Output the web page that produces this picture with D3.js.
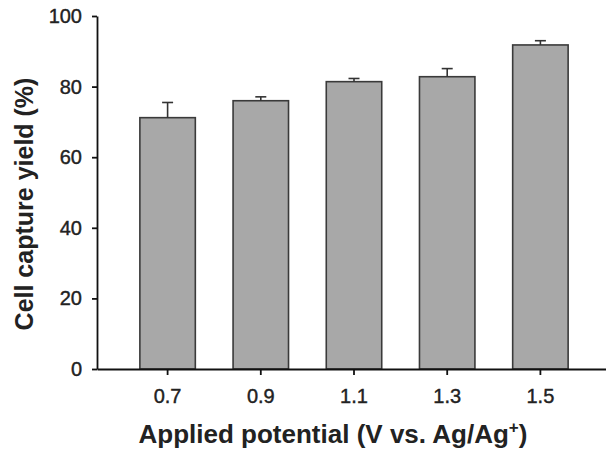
<!DOCTYPE html>
<html>
<head>
<meta charset="utf-8">
<script src="https://cdn.jsdelivr.net/npm/d3@7"></script>
<style>
  body { margin: 0; background: #fff; }
  svg { display: block; font-family: "Liberation Sans", Arial, sans-serif; }
</style>
</head>
<body>
<svg id="main" width="606" height="452"></svg>
<script>
const width = 606
const height = 452

const potentials = ['0.7', '0.9', '1.1', '1.3', '1.5']
const yields = [71.2, 76.0, 81.4, 82.8, 91.8]
const errors = [4.3, 1.1, 0.9, 2.3, 1.2]
const yTicks = [0, 20, 40, 60, 80, 100]

const svg = d3.select('#main')

const x = d3.scaleBand()
  .domain(potentials)
  .range([97, 611])
  .paddingInner(0.405)
  .paddingOuter(0.46)

const y = d3.scaleLinear()
  .domain([0, 100])
  .range([369, 16])

// bars
svg.append('g')
  .selectAll('rect')
  .data(potentials)
  .join('rect')
  .attr('x', d => x(d))
  .attr('y', (d, i) => y(yields[i]))
  .attr('width', x.bandwidth())
  .attr('height', (d, i) => y(0) - y(yields[i]))
  .attr('fill', '#a8a8a8')
  .attr('stroke', '#3a3a3a')
  .attr('stroke-width', 1.6)

// error bars, upper only
const err = svg.append('g').attr('stroke', '#333').attr('stroke-width', 1.6)
potentials.forEach((p, i) => {
  const cx = x(p) + x.bandwidth() / 2
  err.append('line')
    .attr('x1', cx).attr('x2', cx)
    .attr('y1', y(yields[i])).attr('y2', y(yields[i] + errors[i]))
  err.append('line')
    .attr('x1', cx - 5.5).attr('x2', cx + 5.5)
    .attr('y1', y(yields[i] + errors[i])).attr('y2', y(yields[i] + errors[i]))
})

// axes
const yAxis = svg.append('g')
  .attr('transform', 'translate(97,0)')
  .call(d3.axisLeft(y).tickValues(yTicks).tickSize(5).tickPadding(10).tickSizeOuter(0))
const xAxis = svg.append('g')
  .attr('transform', 'translate(0,369)')
  .call(d3.axisBottom(x).tickSize(6).tickPadding(14).tickSizeOuter(0))

for (const a of [yAxis, xAxis]) {
  a.attr('font-size', 20).attr('font-family', '"Liberation Sans", Arial, sans-serif')
  a.select('.domain').attr('stroke', '#111').attr('stroke-width', 1.8)
  a.selectAll('.tick line').attr('stroke', '#111').attr('stroke-width', 1.8)
  a.selectAll('.tick text')
    .attr('fill', '#222')
    .attr('stroke', '#222')
    .attr('stroke-width', 0.4)
}

// titles
const xTitle = svg.append('text')
  .attr('x', 333)
  .attr('y', 443)
  .attr('text-anchor', 'middle')
  .attr('font-size', 26)
  .attr('font-weight', 'bold')
  .attr('fill', '#222')
xTitle.append('tspan').text('Applied potential (V vs. Ag/Ag')
xTitle.append('tspan').attr('dy', -10).attr('font-size', 17).text('+')
xTitle.append('tspan').attr('dy', 10).text(')')

svg.append('text')
  .attr('transform', 'translate(33,204) rotate(-90)')
  .attr('text-anchor', 'middle')
  .attr('font-size', 25)
  .attr('font-weight', 'bold')
  .attr('fill', '#222')
  .text('Cell capture yield (%)')
</script>
</body>
</html>
